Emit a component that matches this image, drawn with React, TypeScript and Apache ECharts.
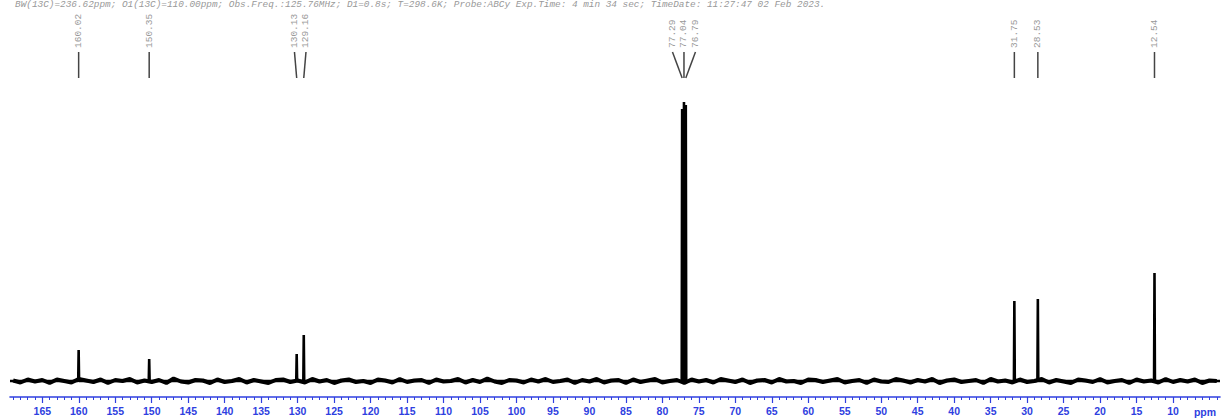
import React, { useEffect, useRef } from "react";
import * as echarts from "echarts";

const headerText =
  "BW(13C)=236.62ppm; O1(13C)=110.00ppm; Obs.Freq.:125.76MHz; D1=0.8s; T=298.6K; Probe:ABCy Exp.Time: 4 min 34 sec; TimeDate: 11:27:47 02 Feb 2023.";

// peak positions (ppm) and heights (arbitrary intensity)
const peakPpm = [160.02, 150.35, 130.13, 129.16, 77.29, 77.04, 76.79, 31.75, 28.53, 12.54];
const peakHeight = [31, 22, 27, 46, 272, 279, 276, 80, 82, 108];

// baseline noise estimated every 1 ppm starting at 169 ppm
const noiseStartPpm = 169;
const noiseStepPpm = 1;
const noise = [
  0.5, -1.5, 1.5, -0.5, 1, -2, 1.5, 0, -1.5, 2, 0.5, -1, 1.5, -2, 1, 0, 2, -1.5, 0.5, -1,
  1, -2, 2.5, -0.5, -1.5, 1, 0.5, -2, 1.5, -1, 0, 2, -1.5, 1, -0.5, -2, 1, 1.5, -1, 0.5,
  -1.5, 2, -0.5, 1, -2, 0.5, 1.5, -1, 0, -2, 1.5, 0.5, -1.5, 2, -1, 0.5, 1, -2, 1.5, -0.5,
  0, 2, -1.5, 1, -1, 2.5, -0.5, -2, 1, 0.5, -1.5, 1.5, -0.5, 2, -1, 0, 1.5, -2, 1, -0.5,
  2, -1.5, 0.5, 1, -2, 1.5, -1, 0.5, 2, -1.5, 0, 1, -2, 1.5, -0.5, 1, -1.5, 2, 0.5, -1,
  1.5, -2, 0.5, 1, -1.5, 2, -0.5, 0, -2, 1.5, 1, -1, 0.5, 2, -1.5, 0, 1, -2, 1.5, -0.5,
  -1, 2, 0.5, -1.5, 1, -0.5, 2, -2, 0.5, 1.5, -1, 0, 1, -2, 2, -0.5, 0.5, -1.5, 1.5, -1,
  0, 2, -1.5, 1, -0.5, -2, 1.5, 0.5, -1, 2, -1.5, 0, 1, -2, 1.5, -0.5, 0.5, -1.5, 2, -1,
  1, -0.5, 1.5, -2, 0.5, 0,
];

const majorTicks = [165, 160, 155, 150, 145, 140, 135, 130, 125, 120, 115, 110, 105, 100, 95, 90, 85, 80, 75, 70, 65, 60, 55, 50, 45, 40, 35, 30, 25, 20, 15, 10];
const axisMin = 3.56;
const axisMax = 169.43;
const axisUnit = "ppm";

const BLUE = "#2f3fe0";

function buildBaseline(): number[][] {
  return noise.map((v, i) => [noiseStartPpm - i * noiseStepPpm, v]);
}

function buildPeaks(): number[][] {
  const pts: number[][] = [[axisMax, 0], [axisMin, 0]];
  peakPpm.forEach((p, i) => {
    pts.push([p + 0.06, 0]);
    pts.push([p, peakHeight[i]]);
    pts.push([p - 0.06, 0]);
  });
  pts.sort((a, b) => b[0] - a[0]);
  return pts;
}

export default function App() {
  const ref = useRef<HTMLDivElement>(null);
  useEffect(() => {
    document.body.style.margin = "0";
    if (!ref.current) return;
    const chart = echarts.init(ref.current, undefined, { renderer: "svg" });
    const minorTicks: number[] = [];
    for (let v = 4; v <= 169; v++) minorTicks.push(v);

    chart.setOption({
      animation: false,
      grid: { left: 10, right: 2, top: 90, bottom: 30 },
      xAxis: [
        {
          type: "value",
          inverse: true,
          min: axisMin,
          max: axisMax,
          position: "bottom",
          offset: 7,
          axisLine: { show: true, onZero: false, lineStyle: { color: BLUE, width: 1.6 } },
          axisTick: { show: true, length: 3, customValues: minorTicks, lineStyle: { color: BLUE, width: 1 } },
          axisLabel: { show: false },
          splitLine: { show: false },
        },
        {
          type: "value",
          inverse: true,
          min: axisMin,
          max: axisMax,
          position: "bottom",
          offset: 7,
          axisLine: { show: false, onZero: false },
          axisTick: { show: true, length: 6, customValues: majorTicks, lineStyle: { color: BLUE, width: 1.2 } },
          axisLabel: {
            show: true,
            customValues: majorTicks,
            color: BLUE,
            fontSize: 10.5,
            fontWeight: "bold",
            fontFamily: "Liberation Sans, Arial, sans-serif",
            margin: 8,
          },
          splitLine: { show: false },
        },
      ],
      yAxis: { type: "value", min: -9, max: 291, show: false },
      series: [
        {
          type: "line",
          xAxisIndex: 0,
          data: buildBaseline(),
          showSymbol: false,
          lineStyle: { color: "#000", width: 4 },
          silent: true,
        },
        {
          type: "line",
          xAxisIndex: 0,
          data: buildPeaks(),
          showSymbol: false,
          lineStyle: { color: "#000", width: 2.6 },
          silent: true,
        },
      ],
    });

    // annotations
    const px = peakPpm.map((p) => chart.convertToPixel({ xAxisIndex: 0 }, p) as number);
    const order = px.map((x, i) => i).sort((a, b) => px[a] - px[b]);
    const labelX: number[] = new Array(px.length);
    const minGap = 11.5;
    let g: number[] = [];
    const flush = () => {
      if (!g.length) return;
      const mean = g.reduce((s, i) => s + px[i], 0) / g.length;
      g.forEach((idx, k) => {
        labelX[idx] = mean + (k - (g.length - 1) / 2) * minGap;
      });
      g = [];
    };
    order.forEach((idx) => {
      if (g.length && px[idx] - px[g[g.length - 1]] >= minGap) flush();
      g.push(idx);
    });
    flush();

    const graphics: any[] = [
      {
        type: "text",
        left: 15,
        top: 0,
        style: {
          text: headerText,
          fontFamily: "Liberation Mono, monospace",
          fontStyle: "italic",
          fontSize: 9.4,
          fill: "#999",
        },
      },
      {
        type: "text",
        x: 1205,
        y: 412,
        style: {
          text: axisUnit,
          fill: BLUE,
          fontSize: 10.5,
          fontWeight: "bold",
          fontFamily: "Liberation Sans, Arial, sans-serif",
          align: "center",
          verticalAlign: "middle",
        },
      },
    ];
    peakPpm.forEach((p, i) => {
      graphics.push({
        type: "line",
        shape: { x1: labelX[i], y1: 52, x2: px[i], y2: 78 },
        style: { stroke: "#444", lineWidth: 1.5 },
      });
      graphics.push({
        type: "text",
        x: labelX[i],
        y: 48,
        rotation: Math.PI / 2,
        style: {
          text: p.toFixed(2),
          fontFamily: "Liberation Mono, monospace",
          fontSize: 9.5,
          fill: "#999",
          align: "left",
          verticalAlign: "middle",
        },
      });
    });
    chart.setOption({ graphic: graphics });

    return () => chart.dispose();
  }, []);
  return <div ref={ref} style={{ width: 1222, height: 420 }} />;
}
